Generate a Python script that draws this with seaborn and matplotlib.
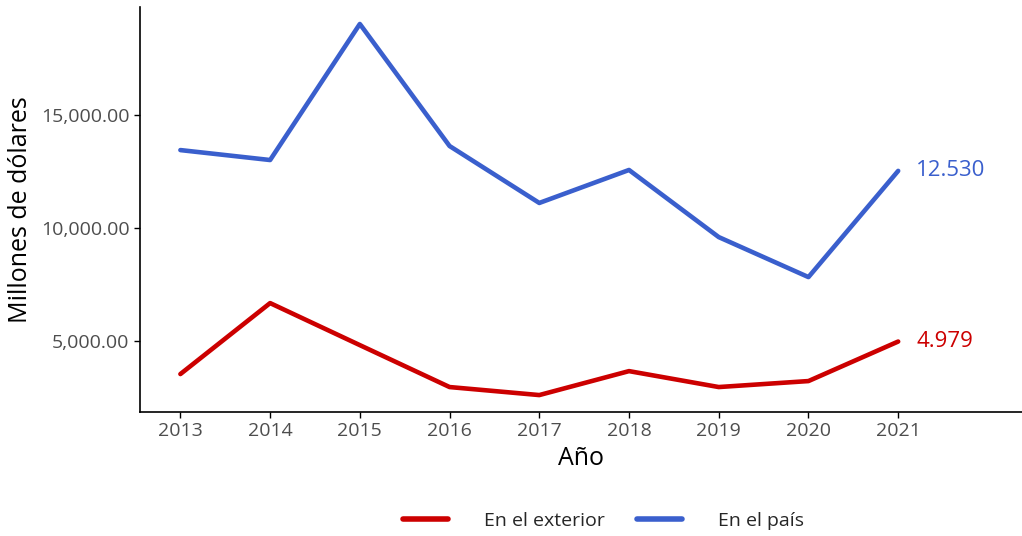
import pandas as pd
import matplotlib.pyplot as plt
import seaborn as sns

# Valores por año (millones de dólares)
years = [2013, 2014, 2015, 2016, 2017, 2018, 2019, 2020, 2021]
exterior = [3540, 6680, 4820, 2965, 2610, 3670, 2965, 3230, 4979]
pais = [13450, 13010, 19030, 13630, 11110, 12570, 9600, 7830, 12530]
series_names = ['En el exterior', 'En el país']
colors = ['#CC0000', '#3A5FCD']

df = pd.DataFrame({
    'Año': years * 2,
    'Valor': exterior + pais,
    'Serie': [series_names[0]] * len(years) + [series_names[1]] * len(years),
})

sns.set_style('white')
plt.rcParams['font.family'] = ['Open Sans', 'DejaVu Sans']

fig = plt.figure(figsize=(10.22, 5.36), dpi=100)
ax = fig.add_axes([0.137, 0.2313, 0.863, 0.7556])

sns.lineplot(data=df, x='Año', y='Valor', hue='Serie', palette=colors,
             hue_order=series_names, linewidth=3.3, ax=ax)

# Etiquetas del último valor
ax.text(years[-1] + 0.2, pais[-1], f"{pais[-1]:,}".replace(',', '.'),
        color=colors[1], fontsize=16, va='center', ha='left')
ax.text(years[-1] + 0.2, exterior[-1], f"{exterior[-1]:,}".replace(',', '.'),
        color=colors[0], fontsize=16, va='center', ha='left')

ax.set_xlim(2012.55, 2022.38)
ax.set_ylim(1860, 19780)
ax.set_xticks(years)
ax.set_yticks([5000, 10000, 15000])
ax.set_yticklabels([f"{v:,.2f}" for v in [5000, 10000, 15000]])
ax.tick_params(axis='both', labelsize=14, labelcolor='#4D4D4D', color='black',
               length=4, width=1, direction='out', left=True, bottom=True)
ax.set_xlabel('Año', fontsize=18, color='black', labelpad=4)
ax.set_ylabel('Millones de dólares', fontsize=18, color='black', labelpad=6)

for side in ['top', 'right']:
    ax.spines[side].set_visible(False)
for side in ['left', 'bottom']:
    ax.spines[side].set_color('black')
    ax.spines[side].set_linewidth(1.2)

handles, labels = ax.get_legend_handles_labels()
for h in handles:
    h.set_linewidth(4)
leg = ax.legend(handles, labels, loc='center', ncol=2, frameon=False,
                fontsize=14, handlelength=2.3, handletextpad=1.85,
                columnspacing=1.7)
leg.set_bbox_to_anchor((0.5905, 0.028), transform=fig.transFigure)

fig.savefig('out.png', dpi=100)
